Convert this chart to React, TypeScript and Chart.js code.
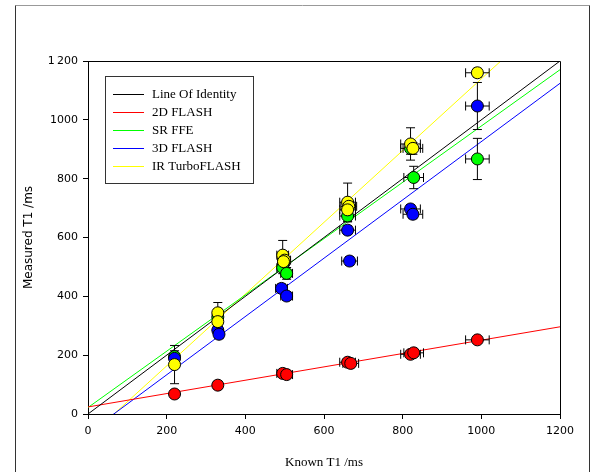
import React, { useEffect, useRef } from "react";
import { Chart, registerables } from "chart.js";

Chart.register(...registerables);

// ---- Data ----
const xTickValues = [0, 200, 400, 600, 800, 1000, 1200];
const yTickLabels = ["0", "200", "400", "600", "800", "1000", "1\u2009200"];

const fitLabels = ["Line Of Identity", "2D FLASH", "SR FFE", "3D FLASH", "IR TurboFLASH"];
const fitColors = ["#000000", "#ff0000", "#00ff00", "#0000ff", "#ffff00"];
const fitSlopes = [1, 0.227, 0.957, 0.991, 1.22];
const fitIntercepts = [0, 24, 22, -65, -80.5];
const fitRange = [0, 1200];

const seriesNames = ["2D FLASH", "SR FFE", "3D FLASH", "IR TurboFLASH"];
const seriesColors = ["#ff0000", "#00ff00", "#0000ff", "#ffff00"];

const flash2dX = [220, 330, 495, 505, 660, 668, 820, 828, 990];
const flash2dY = [68, 98, 138, 134, 176, 172, 203, 208, 252];
const flash2dXErr = [8, 10, 15, 15, 20, 20, 25, 25, 30];
const flash2dYErr = [8, 8, 8, 8, 8, 8, 8, 8, 8];

const srffeX = [220, 330, 495, 505, 660, 820, 828, 990];
const srffeY = [195, 330, 497, 478, 673, 903, 804, 867];
const srffeXErr = [8, 10, 15, 15, 20, 25, 25, 30];
const srffeYErr = [20, 20, 20, 20, 20, 20, 38, 70];

const flash3dX = [220, 330, 333, 492, 505, 660, 665, 820, 826, 990];
const flash3dY = [189, 285, 271, 427, 401, 625, 520, 697, 679, 1047];
const flash3dXErr = [8, 10, 10, 15, 15, 20, 20, 25, 25, 30];
const flash3dYErr = [20, 15, 15, 15, 15, 15, 15, 15, 15, 80];

const irtfX = [220, 330, 330, 495, 500, 497, 660, 663, 660, 820, 826, 990];
const irtfY = [168, 344, 314, 540, 523, 518, 720, 706, 694, 918, 903, 1160];
const irtfXErr = [8, 10, 10, 15, 15, 15, 20, 20, 20, 25, 25, 30];
const irtfYErr = [65, 35, 20, 50, 20, 20, 65, 20, 20, 55, 20, 15];

const W = 593;
const H = 472;

export default function App() {
  const ref = useRef<HTMLCanvasElement>(null);

  useEffect(() => {
    const canvas = ref.current!;
    const sets = [
      { x: flash2dX, y: flash2dY, xe: flash2dXErr, ye: flash2dYErr },
      { x: srffeX, y: srffeY, xe: srffeXErr, ye: srffeYErr },
      { x: flash3dX, y: flash3dY, xe: flash3dXErr, ye: flash3dYErr },
      { x: irtfX, y: irtfY, xe: irtfXErr, ye: irtfYErr },
    ];

    const lineDatasets: any[] = fitLabels.map((label, i) => ({
      type: "line",
      label,
      data: fitRange.map((x) => ({ x, y: fitSlopes[i] * x + fitIntercepts[i] })),
      borderColor: fitColors[i],
      backgroundColor: fitColors[i],
      borderWidth: 1,
      pointRadius: 0,
      fill: false,
      tension: 0,
      order: 10,
    }));

    const pointDatasets: any[] = sets.map((s, i) => ({
      type: "scatter",
      label: seriesNames[i],
      data: s.x.map((x, j) => ({ x, y: s.y[j], xe: s.xe[j], ye: s.ye[j] })),
      backgroundColor: seriesColors[i],
      borderColor: "#000000",
      borderWidth: 1,
      pointRadius: 6,
      showLine: false,
      order: 4 - i,
      isPoints: true,
    }));

    const firstPointIndex = lineDatasets.length; // red drawn first among point sets

    const errorBars = {
      id: "errorBars",
      beforeDatasetDraw(chart: any, args: any) {
        if (args.index !== firstPointIndex) return;
        const { ctx } = chart;
        const xs = chart.scales.x;
        const ys = chart.scales.y;
        ctx.save();
        ctx.strokeStyle = "#000000";
        ctx.lineWidth = 1;
        chart.data.datasets.forEach((ds: any) => {
          if (!ds.isPoints) return;
          ds.data.forEach((p: any) => {
            const px = xs.getPixelForValue(p.x);
            const py = ys.getPixelForValue(p.y);
            const x1 = xs.getPixelForValue(p.x - p.xe);
            const x2 = xs.getPixelForValue(p.x + p.xe);
            const y1 = ys.getPixelForValue(p.y - p.ye);
            const y2 = ys.getPixelForValue(p.y + p.ye);
            const c = 4.5;
            ctx.beginPath();
            ctx.moveTo(x1, py);
            ctx.lineTo(x2, py);
            ctx.moveTo(x1, py - c);
            ctx.lineTo(x1, py + c);
            ctx.moveTo(x2, py - c);
            ctx.lineTo(x2, py + c);
            ctx.moveTo(px, y1);
            ctx.lineTo(px, y2);
            ctx.moveTo(px - c, y1);
            ctx.lineTo(px + c, y1);
            ctx.moveTo(px - c, y2);
            ctx.lineTo(px + c, y2);
            ctx.stroke();
          });
        });
        ctx.restore();
      },
    };

    const decorations = {
      id: "decorations",
      afterDraw(chart: any) {
        const { ctx, chartArea } = chart;
        ctx.save();
        // outer frame (open at bottom)
        ctx.lineWidth = 1;
        ctx.strokeStyle = "#999999";
        ctx.beginPath();
        ctx.moveTo(15.5, 5.5);
        ctx.lineTo(589.5, 5.5);
        ctx.stroke();
        ctx.strokeStyle = "#333333";
        ctx.beginPath();
        ctx.moveTo(15.5, 5.5);
        ctx.lineTo(15.5, H);
        ctx.moveTo(589.5, 5.5);
        ctx.lineTo(589.5, H);
        ctx.stroke();
        // top and right border of plot area
        ctx.strokeStyle = "#000000";
        ctx.beginPath();
        ctx.moveTo(chartArea.left, Math.round(chartArea.top) + 0.5);
        ctx.lineTo(Math.round(chartArea.right) + 0.5, Math.round(chartArea.top) + 0.5);
        ctx.lineTo(Math.round(chartArea.right) + 0.5, chartArea.bottom);
        ctx.stroke();
        // legend box
        const bx = 105.5, by = 76.5, bw = 148, bh = 107;
        ctx.fillStyle = "#ffffff";
        ctx.fillRect(bx, by, bw, bh);
        ctx.strokeStyle = "#333333";
        ctx.strokeRect(bx, by, bw, bh);
        ctx.font = "13px 'Liberation Serif', 'Times New Roman', serif";
        ctx.textBaseline = "middle";
        ctx.textAlign = "left";
        fitLabels.forEach((label, i) => {
          const yy = 94.5 + i * 18;
          ctx.strokeStyle = fitColors[i];
          ctx.beginPath();
          ctx.moveTo(113, yy);
          ctx.lineTo(144, yy);
          ctx.stroke();
          ctx.fillStyle = "#000000";
          ctx.fillText(label, 152, yy);
        });
        ctx.restore();
      },
    };

    const tickFont = { family: "'DejaVu Sans', sans-serif", size: 11 };

    const chart = new Chart(canvas, {
      type: "scatter",
      data: { datasets: [...lineDatasets, ...pointDatasets] },
      options: {
        responsive: false,
        animation: false,
        devicePixelRatio: 1,
        layout: { padding: { top: 61, right: 33, left: 0, bottom: 0 } },
        plugins: {
          legend: { display: false },
          tooltip: { enabled: false },
        },
        scales: {
          x: {
            type: "linear",
            min: 0,
            max: 1200,
            afterFit: (s: any) => {
              s.height = 58;
            },
            afterBuildTicks: (s: any) => {
              s.ticks = xTickValues.map((v) => ({ value: v }));
            },
            ticks: {
              color: "#000000",
              font: tickFont,
              padding: 6,
              maxRotation: 0,
              autoSkip: false,
              callback: (v: any) => String(v),
            },
            grid: {
              display: true,
              drawOnChartArea: false,
              drawTicks: true,
              tickLength: 5,
              color: "#000000",
            },
            border: { display: true, color: "#000000", width: 1 },
            title: {
              display: true,
              text: "Known T1 /ms",
              color: "#000000",
              font: { family: "'Liberation Serif', 'Times New Roman', serif", size: 13 },
              padding: { top: 0, bottom: 2 },
            },
          },
          y: {
            type: "linear",
            min: 0,
            max: 1200,
            afterFit: (s: any) => {
              s.width = 88;
            },
            afterBuildTicks: (s: any) => {
              s.ticks = xTickValues.map((v) => ({ value: v }));
            },
            ticks: {
              color: "#000000",
              font: tickFont,
              padding: 5,
              autoSkip: false,
              callback: (v: any) => yTickLabels[xTickValues.indexOf(Number(v))] ?? String(v),
            },
            grid: {
              display: true,
              drawOnChartArea: false,
              drawTicks: true,
              tickLength: 5,
              color: "#000000",
            },
            border: { display: true, color: "#000000", width: 1 },
            title: {
              display: true,
              text: "Measured T1 /ms",
              color: "#000000",
              font: { family: "'DejaVu Sans', sans-serif", size: 12 },
              padding: { top: 22, bottom: 0 },
            },
          },
        },
      } as any,
      plugins: [errorBars, decorations],
    });

    return () => chart.destroy();
  }, []);

  return (
    <div style={{ position: "absolute", left: 0, top: 0, width: W, height: H, background: "#ffffff" }}>
      <canvas ref={ref} width={W} height={H} style={{ display: "block", width: W, height: H }} />
    </div>
  );
}
